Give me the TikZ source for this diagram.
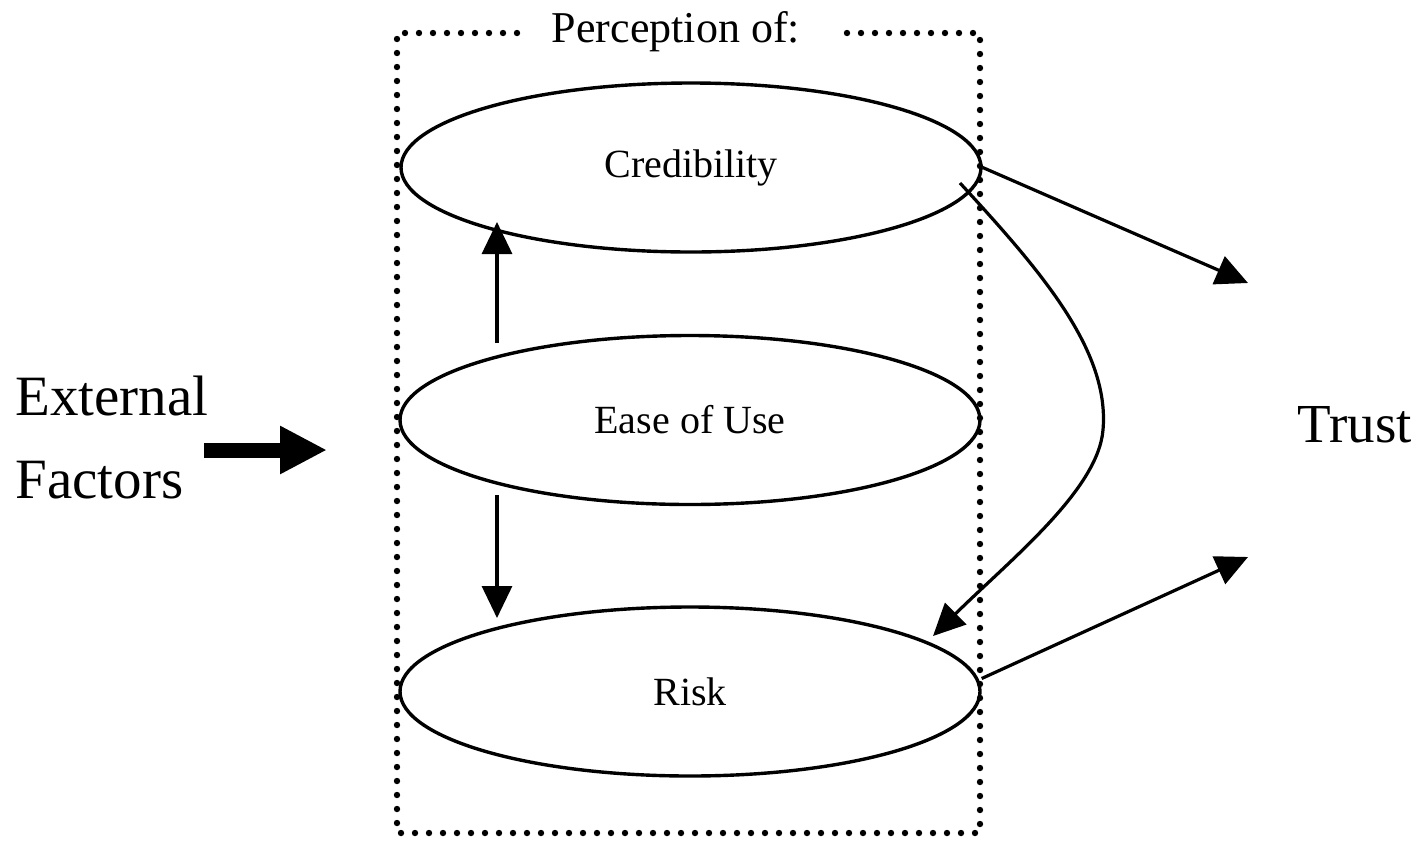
\documentclass[tikz,border=0pt]{standalone}
\usepackage{fontspec}
\setmainfont{Liberation Serif}
\usetikzlibrary{arrows.meta,shapes.geometric}
\begin{document}
\begin{tikzpicture}[x=0.5pt,y=-0.5pt,
  oval/.style={draw,ellipse,line width=1.7pt,minimum width=290pt,minimum height=84.5pt,inner sep=0pt,font=\fontsize{20pt}{24pt}\selectfont},
  conn/.style={line width=1.6pt,-{Triangle[length=16pt,width=15pt]}},
  bigtext/.style={font=\fontsize{28.5pt}{41.5pt}\selectfont,inner sep=0pt},
  dotbox/.style={line width=3.2pt,line cap=round,dash pattern=on 0pt off 7pt}]
\useasboundingbox (0,0) rectangle (1420,842);
% dotted frame
\draw[dotbox] (517,33) -- (397,33) -- (397,833) -- (980,833) -- (980,33) -- (841,33);
\node[inner sep=0pt,anchor=base,font=\fontsize{22pt}{26pt}\selectfont] (perc) at (676,42) {Perception of:};
% ellipses
\node[oval] (cred) at (691,167.5) {Credibility};
\node[oval] (ease) at (690,420) {Ease of Use};
\node[oval] (risk) at (690,691.5) {Risk};
% left text and arrow
\node[bigtext,align=left,anchor=west] (ext) at (15,437) {External\\Factors};
\coordinate (bigs) at (204,450);
\coordinate (bige) at (327,450);
\draw[line width=7.5pt,-{Triangle[length=23.5pt,width=22.5pt]}] (bigs) -- (bige);
% trust
\node[bigtext,font=\fontsize{27.5pt}{33pt}\selectfont] (trust) at (1355,425) {Trust};
\coordinate (tt) at (1248,283);
\coordinate (tb) at (1248,557);
\draw[conn] (cred.east) -- (tt);
\draw[conn] (risk.east) ++(0,-13) coordinate (rs) -- (tb);
% vertical arrows
\coordinate (upS) at (497,343);
\coordinate (upE) at (497,222);
\coordinate (dnS) at (497,495);
\coordinate (dnE) at (497,618);
\draw[conn] (upS) -- (upE);
\draw[conn] (dnS) -- (dnE);
% curved arrow
\coordinate (cs) at (960,183);
\coordinate (cm) at (1103,430);
\coordinate (ce) at (933,636);
\draw[conn] (cs) .. controls (1040,270) and (1110,350) .. (cm) .. controls (1098,490) and (1010,560) .. (ce);
\end{tikzpicture}
\end{document}
